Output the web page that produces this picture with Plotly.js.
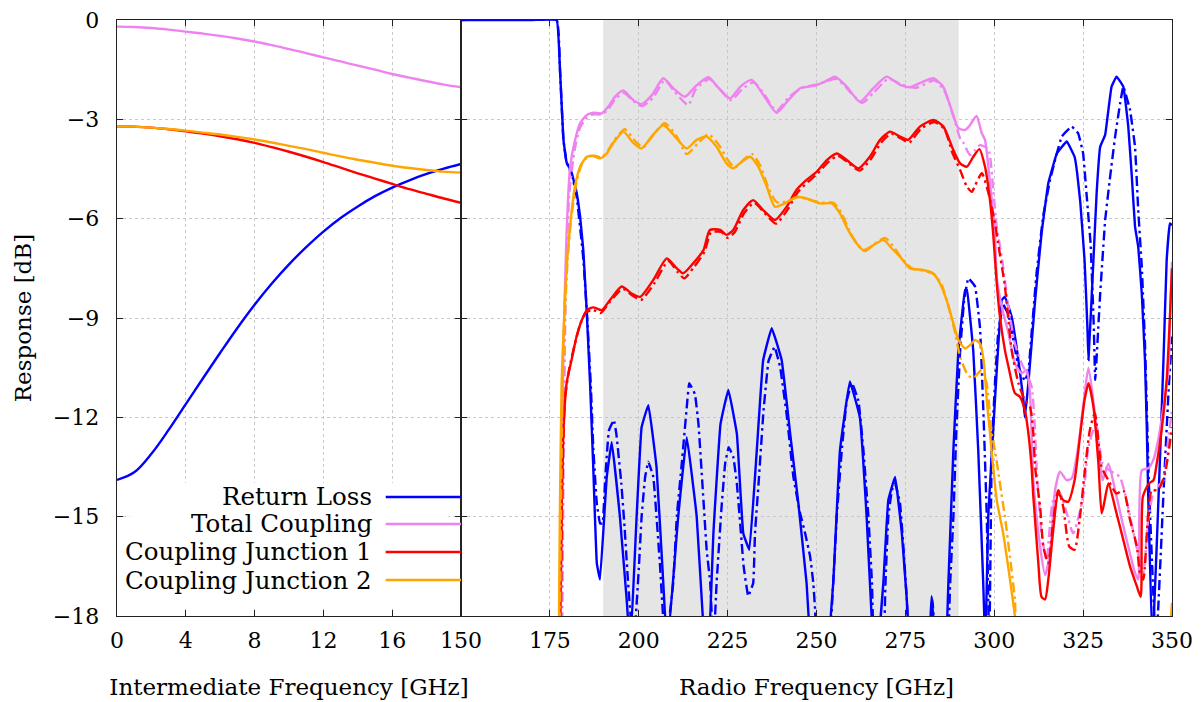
<!DOCTYPE html>
<html>
<head>
<meta charset="utf-8">
<script src="https://cdn.plot.ly/plotly-3.0.1.min.js"></script>
<style>html,body{margin:0;padding:0;background:#fff;}#chart{width:1204px;height:702px;}</style>
</head>
<body>
<div id="chart"></div>
<script>
// ---------- Intermediate frequency panel (GHz, dB) ----------
const ifFreq = [0,1,2,3,4,5,6,7,8,9,10,11,12,13,14,15,16,17,18,19,20];
const ifReturnLoss = [-13.89,-13.66,-13.1,-12.38,-11.6,-10.82,-10.05,-9.3,-8.6,-7.96,-7.38,-6.86,-6.39,-5.98,-5.63,-5.32,-5.06,-4.84,-4.65,-4.49,-4.35];
const ifTotalCoupling = [-0.2,-0.21,-0.24,-0.29,-0.35,-0.41,-0.48,-0.56,-0.65,-0.76,-0.88,-1.0,-1.13,-1.25,-1.38,-1.5,-1.63,-1.74,-1.85,-1.95,-2.03];
const ifJunction1 = [-3.21,-3.22,-3.25,-3.3,-3.36,-3.43,-3.51,-3.6,-3.71,-3.84,-3.98,-4.13,-4.29,-4.46,-4.63,-4.79,-4.95,-5.11,-5.25,-5.39,-5.52];
const ifJunction2 = [-3.21,-3.22,-3.25,-3.29,-3.34,-3.4,-3.46,-3.53,-3.61,-3.7,-3.8,-3.9,-4.01,-4.12,-4.22,-4.31,-4.4,-4.47,-4.53,-4.58,-4.61];

// ---------- Radio frequency panel: [GHz, dB] ----------
const rfReturnLossA = [[150,0],[170,0],[176.9,0],[177.8,-1.4],[178.8,-3.6],[179.7,-4.3],[181.1,-4.6],[182.5,-5.2],[183.5,-5.94],[184.4,-6.95],[185.3,-8.66],[186.3,-10.97],[187.2,-13.5],[188.2,-16.4],[189.1,-16.9],[191,-13.8],[192.4,-12.75],[194.7,-15],[196.6,-17.5],[197.6,-19],[199.4,-15],[200.8,-12.3],[202.7,-11.63],[205,-13.5],[206.9,-17],[208,-19],[211.1,-15],[213.5,-12.6],[216.3,-15],[218,-18],[219.5,-19.5],[221,-15.5],[223,-12.2],[225.2,-11.17],[227.6,-12.5],[229.4,-15.5],[231.1,-16],[233.2,-13],[235,-10.27],[237.4,-9.31],[240.2,-10.27],[242.6,-12.5],[244.9,-14.6],[247.2,-17],[249,-19.5],[252.5,-19.5],[254.7,-17],[256.6,-13],[259.4,-10.92],[262.2,-12],[264.1,-15],[265.5,-18],[266.8,-19.5],[268.8,-17],[270.2,-14.5],[272.1,-13.8],[274,-15.5],[275.4,-17.5],[277,-20],[281.5,-19],[282.4,-17.4],[283.5,-19],[286,-20],[287.1,-17],[288.5,-13],[289.9,-10],[291.8,-8.15],[292.3,-8.15],[294.1,-10],[295.5,-13],[296.9,-17],[297.5,-19],[298.3,-15],[300.2,-11.48],[302.1,-8.46],[303,-8.36],[304.9,-8.96],[306.8,-10.27],[308.2,-11.48],[308.6,-12],[309.6,-10.97],[311.5,-8.46],[313.3,-6.45],[315.2,-4.93],[317.6,-4.03],[320.4,-3.67],[322.6,-4.13],[323.3,-4.6],[324.2,-5.5],[325.4,-7.25],[326.2,-9.26],[326.5,-10.27],[327.9,-7.25],[328.8,-5.23],[329.8,-3.83],[331.2,-3.47],[332.1,-2.72],[333,-2.01],[334.4,-1.71],[336.3,-2.01],[337.7,-3.22],[338.7,-4.73],[339.6,-6.24],[340.5,-6.85],[341.5,-8.26],[342.4,-10.27],[342.9,-12.28],[343.3,-14.3],[344.5,-19],[346.6,-13.3],[347.6,-10.27],[348.5,-7.25],[349.4,-6.14],[350,-6.2]];
const rfReturnLossB = [[150,0],[176.9,0],[177.8,-1.4],[178.8,-3.6],[179.7,-4.3],[181.1,-4.65],[182.5,-5.3],[184.4,-7.2],[185.5,-9],[186.5,-11],[187.2,-12.9],[188.2,-14.6],[189.1,-15.2],[189.8,-15.2],[190.6,-13.8],[191.6,-12.4],[193,-12.08],[193.7,-12.5],[195.1,-14],[196,-15.3],[197,-17],[198.5,-19],[200,-16.6],[200.8,-15],[201.8,-13.8],[202.7,-13.34],[204.1,-13.8],[205,-15],[206,-16.5],[207.5,-19],[209.7,-17],[210.7,-15],[212.1,-13.4],[213.5,-11.7],[214.2,-10.97],[215.8,-11.3],[216.8,-12.2],[218.2,-14.5],[219.1,-16],[220.1,-17],[221,-19],[221.9,-17],[223.3,-14.7],[224.3,-13.4],[225.3,-12.9],[226.6,-13.2],[227.6,-14],[228.6,-15.3],[229.5,-16.5],[230.8,-17.4],[232.2,-17],[232.7,-15.5],[233.7,-14],[235.1,-11.8],[236.5,-10.3],[238.2,-9.87],[239.8,-10.5],[241.7,-12],[243.5,-13.8],[245.4,-14.9],[246.8,-15.5],[248.2,-16.2],[249.1,-17],[249.6,-17.8],[250.5,-19.5],[253,-19.5],[254.7,-17],[255.7,-15],[257.1,-13],[258.5,-11.5],[260,-10.97],[261.8,-11.5],[263.2,-13],[264.6,-15],[265.6,-17],[266.5,-19.5],[268.5,-19.5],[269.4,-17],[270.2,-15],[271.2,-14.2],[272.1,-14],[273.5,-14.6],[274.5,-16],[275.4,-17.5],[276.5,-20],[281.5,-19],[282.6,-17.5],[283.6,-19],[286.5,-20],[287.6,-17],[288.5,-15],[289.3,-12.5],[290.4,-10],[291.5,-8.5],[292.7,-7.8],[294.6,-8.05],[296,-9.3],[297,-12],[297.9,-15],[298.6,-19],[299.3,-13],[300.2,-10.97],[301.1,-9.46],[302.5,-8.6],[304,-8.9],[306.8,-10.47],[308.6,-10.9],[309.6,-10.6],[310.5,-9.46],[311.9,-7.65],[313.8,-5.9],[315.7,-4.83],[317.6,-4.03],[319,-3.52],[321.8,-3.22],[323.6,-3.42],[325,-4.03],[326.1,-5.44],[327.1,-6.75],[328,-9.26],[328.4,-10.87],[329.8,-8.26],[331.2,-6.04],[332.6,-4.73],[334,-3.52],[335.4,-2.52],[336.3,-2.01],[338.2,-2.72],[339.6,-3.83],[340.5,-5.74],[341.5,-7.45],[342.4,-9.77],[343.5,-14],[345.5,-19],[347.6,-14.3],[349,-11.27],[350,-9.56]];
const rfTotalCouplingA = [[177.5,-25],[178.4,-14],[178.8,-10],[179.7,-6.45],[180.7,-4.43],[182.1,-3.62],[183.5,-3.12],[185.4,-2.87],[187.2,-2.8],[189.6,-2.82],[191.4,-2.62],[193.3,-2.32],[195.6,-2.13],[198.5,-2.42],[200.8,-2.54],[203.7,-2.27],[206.9,-1.76],[209.7,-2.06],[213,-2.32],[216,-2.0],[219.6,-1.73],[222.5,-2.06],[225.7,-2.37],[228.6,-2.01],[231.8,-1.81],[235.1,-2.27],[238.8,-2.8],[242.1,-2.42],[245.4,-2.06],[249.2,-1.99],[252.4,-1.86],[255.2,-1.71],[258.5,-2.01],[262.2,-2.47],[266,-2.06],[269.7,-1.71],[273.5,-1.96],[276.3,-2.03],[280,-1.86],[282.8,-1.76],[285.6,-2.01],[288,-2.72],[289.9,-3.27],[291.8,-3.32],[293,-3.2],[295,-2.9],[296.5,-3.42],[297.4,-3.62],[298.8,-4.93],[300.2,-6.45],[300.7,-7.75],[302.1,-8.66],[304,-9.46],[305.8,-10.37],[307.7,-10.67],[309.1,-10.57],[310.05,-11.27],[311,-13.9],[312.9,-15.9],[314.3,-16.76],[315.7,-16.1],[317.1,-14.2],[318.5,-13.64],[320.4,-13.9],[321.8,-13.84],[323.6,-12.9],[325,-11.68],[326.5,-10.5],[328.3,-11.88],[329.8,-13.4],[330.5,-13.9],[332.1,-13.4],[334,-14.2],[335.9,-15.1],[337.7,-15.9],[339.6,-16.7],[340.5,-16.9],[341.5,-13.6],[343.3,-13.54],[344.7,-13.3],[346.1,-12.7],[347.6,-11.68],[349,-10.6],[349.5,-8.8],[350,-7.3]];
const rfTotalCouplingB = [[178,-25],[178.8,-14],[179.5,-8],[180.5,-5.2],[182,-3.9],[183.5,-3.25],[185.4,-2.95],[187.2,-2.85],[189.6,-2.85],[191.4,-2.7],[193.3,-2.4],[195.8,-2.2],[198.5,-2.45],[201,-2.6],[204,-2.35],[207.3,-1.82],[210,-2.15],[213.9,-2.57],[216,-2.1],[219.9,-1.78],[222,-2.0],[226,-2.42],[229,-2.1],[232.3,-1.88],[235,-2.2],[238.8,-2.75],[242,-2.35],[246,-2.05],[250,-1.95],[255.6,-1.78],[258,-2.0],[262.8,-2.5],[266,-2.2],[270.2,-1.78],[274,-1.95],[278,-2.05],[283.2,-1.82],[286,-2.15],[288.5,-2.9],[290.5,-3.6],[291.4,-3.72],[293.2,-4.08],[294.6,-3.93],[296,-3.78],[298.3,-3.9],[299.7,-5.13],[300.7,-6.24],[302.1,-7.15],[304,-8.66],[305.8,-9.77],[307.7,-10.37],[309.1,-10.67],[310.5,-11.07],[311.3,-12.08],[311.9,-13.5],[313.3,-15.5],[314.7,-16.3],[316.6,-14.5],[318.5,-14.3],[320.4,-14.9],[322.2,-15.5],[325,-14.4],[326.5,-12.9],[328.6,-12.2],[330.5,-13.4],[332.4,-13.6],[335.3,-13.8],[337.2,-14.5],[339.6,-15.7],[341.9,-16.7],[343.3,-15.1],[345,-14.2],[347.6,-13.9],[349,-12.6],[350,-11.8]];
const rfJunction1A = [[177.5,-25],[177.8,-19],[178.3,-15],[178.8,-12.48],[179.7,-10.97],[181.1,-10.27],[182.5,-9.56],[184,-9.06],[185.4,-8.76],[187.2,-8.68],[189.6,-8.76],[191.9,-8.46],[195.2,-8.05],[198,-8.26],[200.4,-8.36],[204.1,-7.85],[207.9,-7.2],[210.7,-7.5],[212.5,-7.65],[215.3,-7.35],[218.2,-6.95],[220,-6.34],[222.9,-6.34],[224.7,-6.49],[226.6,-6.34],[229.4,-5.74],[232.2,-5.44],[235,-5.74],[238.3,-6.04],[241.6,-5.64],[244.4,-5.13],[247.2,-4.83],[250.1,-4.58],[252.9,-4.23],[255.7,-4.03],[258.5,-4.23],[261.8,-4.48],[265,-4.13],[267.9,-3.62],[270.7,-3.37],[273.5,-3.52],[275.8,-3.62],[279.1,-3.22],[282.9,-3.02],[285.7,-3.22],[288.5,-3.93],[290.4,-4.33],[292.3,-4.43],[294.1,-4.13],[295.8,-3.9],[297.4,-4.43],[298.8,-5.44],[299.7,-6.45],[300.7,-7.95],[301.6,-8.96],[303,-9.97],[304,-10.47],[305.8,-11.27],[307.2,-11.38],[308.6,-11.78],[309.6,-12.48],[310.5,-13.5],[311,-14.4],[312.4,-16.4],[313.3,-17.42],[314.3,-17.5],[315.2,-16.9],[316.6,-15.4],[318,-14.3],[319.4,-14.5],[320.8,-14.55],[322.6,-13.9],[324,-12.68],[325.4,-11.48],[326.5,-10.97],[327.9,-11.68],[329.3,-13.39],[330.2,-14.9],[330.9,-14.6],[332.1,-14.0],[334.4,-14.9],[336.3,-15.7],[338.2,-16.5],[340.1,-17.1],[341.2,-17.42],[341.8,-14.4],[343.5,-14.0],[344.8,-13.9],[345.7,-13.4],[347.1,-12.38],[348.5,-10.87],[349.4,-9.0],[350,-7.5]];
const rfJunction1B = [[177.8,-25],[178.1,-18],[178.6,-13.5],[179.2,-11.5],[180.5,-10.5],[182,-9.8],[183.5,-9.2],[185,-8.85],[187,-8.75],[189.3,-8.85],[191.6,-8.55],[195.5,-8.12],[198.3,-8.33],[200.7,-8.45],[204.4,-7.95],[208.3,-7.28],[211,-7.62],[212.8,-7.8],[215.6,-7.45],[218.5,-7.0],[220.3,-6.42],[223.2,-6.4],[225,-6.58],[226.9,-6.42],[229.7,-5.82],[232.5,-5.52],[235.3,-5.82],[238.6,-6.15],[241.9,-5.72],[244.7,-5.2],[247.5,-4.9],[250.4,-4.63],[253.2,-4.3],[256,-4.1],[258.8,-4.3],[262.1,-4.55],[265.3,-4.2],[268.2,-3.7],[271,-3.43],[273.8,-3.58],[276.1,-3.7],[279.4,-3.28],[283.2,-3.08],[286,-3.3],[288.2,-4.0],[290.4,-4.53],[292.3,-5.03],[293.7,-5.19],[294.6,-5.0],[296.5,-4.63],[298.3,-5.2],[300.2,-6.14],[301.1,-6.75],[303,-8.05],[304.9,-9.97],[306.8,-10.97],[308.6,-11.48],[310.05,-11.68],[311,-12.5],[311.5,-13.5],[312.9,-14.7],[313.8,-15.9],[315.2,-16.4],[316.6,-15.1],[318,-14.2],[319.4,-14.7],[321.1,-15.9],[322.6,-16.0],[324,-15.1],[325.4,-13.7],[326.9,-12.38],[328.3,-11.88],[330.2,-13.5],[332.1,-13.9],[334.4,-14.3],[336.3,-14.2],[338.2,-15.1],[340.1,-15.9],[341,-16.7],[341.9,-16.9],[343.3,-14.9],[344.3,-14.2],[346.1,-14.2],[348,-13.7],[350,-12.3]];
const rfJunction2A = [[177.2,-25],[177.5,-19],[177.8,-15],[178.3,-11],[178.8,-9.5],[179.7,-7.5],[180.7,-6.2],[182.1,-5.0],[183.5,-4.43],[185.4,-4.13],[187.2,-4.11],[189.1,-4.18],[191,-4.03],[192.8,-3.72],[195.7,-3.37],[198.5,-3.72],[200.8,-3.88],[203.6,-3.52],[206.9,-3.17],[210.2,-3.52],[213.5,-3.88],[216.3,-3.62],[219.1,-3.52],[221.9,-3.83],[224.7,-4.33],[226.6,-4.48],[229,-4.28],[231.3,-4.13],[233.6,-4.43],[236,-5.03],[238.3,-5.64],[241.1,-5.54],[244.4,-5.34],[247.2,-5.39],[251,-5.54],[254.3,-5.54],[256.6,-5.84],[258.9,-6.34],[261.3,-6.75],[263.2,-6.95],[266,-6.8],[268.8,-6.64],[271.2,-6.9],[273.5,-7.15],[276.3,-7.5],[280,-7.55],[282.8,-7.65],[284.7,-7.95],[286.6,-8.46],[288.5,-9.16],[289.9,-9.66],[291.8,-9.92],[293.7,-9.77],[294.6,-9.66],[296,-9.77],[297,-10.27],[297.9,-11.48],[298.8,-12.48],[299.7,-13.5],[300.7,-14.5],[302.5,-15.5],[303.9,-16.5],[305.8,-18],[307.5,-20],[345,-25],[348.8,-19.5],[350,-17.6]];
const rfJunction2B = [[177.5,-25],[177.8,-19],[178.1,-15],[178.6,-11],[179.1,-9.3],[180,-7.2],[181,-6],[182.5,-4.9],[184,-4.35],[185.8,-4.12],[187.6,-4.1],[189.5,-4.15],[191.3,-3.95],[193.2,-3.62],[196.1,-3.3],[198.9,-3.65],[201.2,-3.85],[204,-3.48],[207.3,-3.12],[210.6,-3.5],[213.5,-4.05],[216.7,-3.72],[219.6,-3.45],[222.4,-3.75],[225.2,-4.25],[227.1,-4.45],[229.5,-4.22],[231.9,-4.05],[234.2,-4.4],[236.6,-5.1],[238.8,-5.5],[241.6,-5.48],[244.9,-5.35],[247.7,-5.42],[251.5,-5.52],[254.8,-5.52],[257.1,-5.85],[259.4,-6.4],[261.8,-6.82],[263.7,-6.98],[266.5,-6.75],[269.3,-6.58],[271.7,-6.85],[274,-7.2],[276.8,-7.5],[280.5,-7.58],[283.3,-7.7],[285.2,-8.0],[287,-8.6],[288.9,-9.4],[290.4,-10.17],[292.3,-10.67],[293.7,-10.82],[294.6,-10.77],[296.5,-10.57],[297.9,-11.0],[299.3,-12.5],[300.2,-13],[301.6,-14],[303,-15],[304.4,-16.2],[305.8,-17.5],[307.5,-20],[345,-25],[349,-19.5],[350,-18.2]];

// ---------- Styling inputs ----------
const seriesNames = ['Return Loss','Total Coupling','Coupling Junction 1','Coupling Junction 2'];
const seriesColors = ['#0000ff','#ee82ee','#ff0000','#ffa500'];
const seriesSmoothing = [0.25, 0.6, 0.6, 0.6];
const ifTicks = [0,4,8,12,16];
const rfBand = [190, 290];

const LW = 2.4;
const DASHDOT = '10px,4px,2.5px,4px';
const FONT = 'DejaVu Serif';
const xs = a => a.map(p => p[0]);
const ys = a => a.map(p => p[1]);

const ifSeries = [ifReturnLoss, ifTotalCoupling, ifJunction1, ifJunction2];
const rfSeries = [[rfReturnLossA, rfReturnLossB],[rfTotalCouplingA, rfTotalCouplingB],[rfJunction1A, rfJunction1B],[rfJunction2A, rfJunction2B]];

const traces = [];
ifSeries.forEach((s, i) => {
  traces.push({x: ifFreq, y: s, xaxis:'x', yaxis:'y', mode:'lines', name: seriesNames[i],
    line:{color: seriesColors[i], width: LW, shape:'spline', smoothing:1}, showlegend:false, hoverinfo:'skip'});
});
rfSeries.forEach((pair, i) => {
  traces.push({x: xs(pair[1]), y: ys(pair[1]), xaxis:'x2', yaxis:'y2', mode:'lines', name: seriesNames[i]+' (alt)',
    line:{color: seriesColors[i], width: LW, dash: DASHDOT, shape:'spline', smoothing: seriesSmoothing[i]}, showlegend:false, hoverinfo:'skip'});
  traces.push({x: xs(pair[0]), y: ys(pair[0]), xaxis:'x2', yaxis:'y2', mode:'lines', name: seriesNames[i],
    line:{color: seriesColors[i], width: LW, shape:'spline', smoothing: seriesSmoothing[i]}, showlegend:false, hoverinfo:'skip'});
});

const split = (461-117)/(1172-117);
const axisCommon = {
  showline:true, linecolor:'#222', linewidth:1.3, mirror:'ticks', ticks:'inside', ticklen:6,
  tickcolor:'#222', tickwidth:1, showgrid:true, gridcolor:'#c8c8c8', griddash:'dot', gridwidth:1,
  zeroline:false, tickfont:{family:FONT, size:22, color:'#000'}
};

const legendY = [0.1997, 0.1544, 0.1074, 0.0604];
const shapes = [
  {type:'rect', xref:'x2', yref:'y2 domain', x0: rfBand[0], x1: rfBand[1], y0:0, y1:1,
   fillcolor:'#e5e5e5', line:{width:0}, layer:'below'},
  {type:'rect', xref:'paper', yref:'paper', x0:0.012, x1:split-0.012, y0:0.012, y1:0.223,
   fillcolor:'#ffffff', line:{width:0}, layer:'above'}
];
const annotations = [];
seriesNames.forEach((n, i) => {
  shapes.push({type:'line', xref:'paper', yref:'paper', x0:0.2547, x1:split, y0:legendY[i], y1:legendY[i],
    line:{color:seriesColors[i], width:LW}, layer:'above'});
  annotations.push({xref:'paper', yref:'paper', x:0.2440, y:legendY[i], xanchor:'right', yanchor:'middle',
    text:n, showarrow:false, font:{family:FONT, size:24.5, color:'#000'}});
});

const layout = {
  width:1204, height:702,
  margin:{l:117, r:32, t:20, b:86},
  paper_bgcolor:'#fff', plot_bgcolor:'rgba(0,0,0,0)',
  showlegend:false,
  font:{family:FONT, color:'#000'},
  xaxis: Object.assign({}, axisCommon, {domain:[0, split], range:[0,20], tickmode:'array', tickvals: ifTicks,
    anchor:'y', ticklabelstandoff:4,
    title:{text:'Intermediate Frequency [GHz]', font:{family:FONT, size:23, color:'#000'}, standoff:27}}),
  xaxis2: Object.assign({}, axisCommon, {domain:[split, 1], range:[150,350], tick0:150, dtick:25,
    anchor:'y2', ticklabelstandoff:4,
    title:{text:'Radio Frequency [GHz]', font:{family:FONT, size:23, color:'#000'}, standoff:27}}),
  yaxis: Object.assign({}, axisCommon, {domain:[0,1], range:[-18,0], tick0:0, dtick:3, anchor:'x',
    ticklabelstandoff:12,
    title:{text:'Response [dB]', font:{family:FONT, size:23, color:'#000'}, standoff:14}}),
  yaxis2: Object.assign({}, axisCommon, {domain:[0,1], range:[-18,0], tick0:0, dtick:3, anchor:'x2',
    matches:'y', showticklabels:false}),
  shapes: shapes,
  annotations: annotations
};

Plotly.newPlot('chart', traces, layout, {staticPlot:true, displayModeBar:false});
</script>
</body>
</html>
